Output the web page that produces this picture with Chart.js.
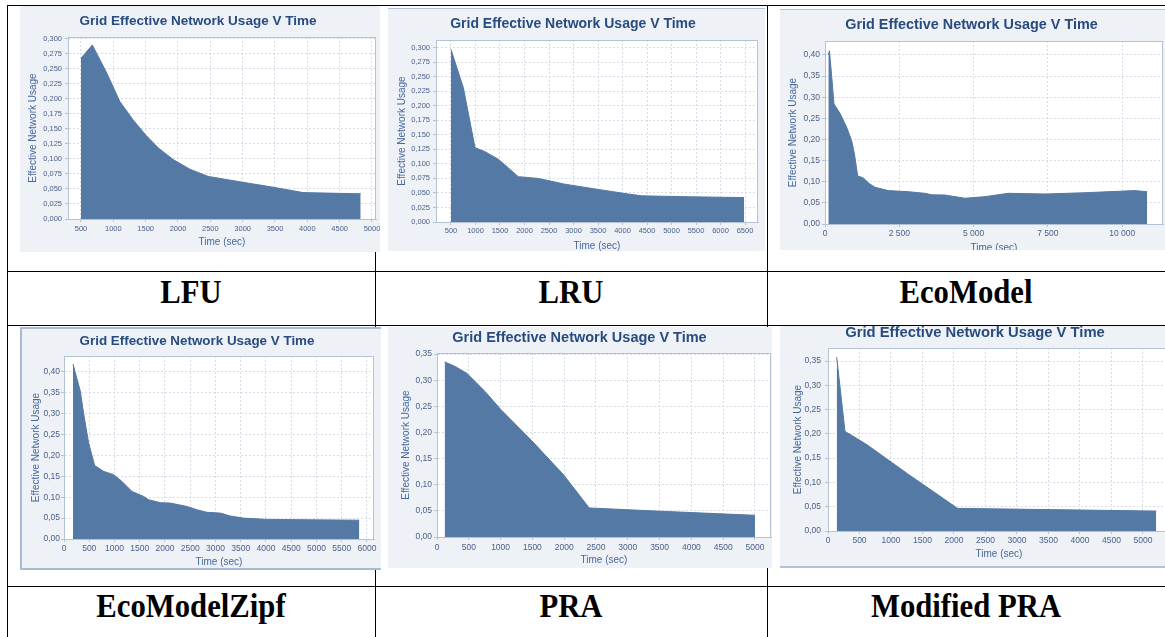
<!DOCTYPE html>
<html>
<head>
<meta charset="utf-8">
<script src="https://cdn.jsdelivr.net/npm/chart.js@4.4.0/dist/chart.umd.min.js"></script>
<style>
  html, body { margin: 0; padding: 0; background: #fff; }
  body { position: relative; width: 1165px; height: 637px; overflow: hidden; }
  .hl { position: absolute; height: 1px; background: #000; }
  .vl { position: absolute; width: 1px; background: #000; }
  .panel { position: absolute; background: #eef2f7; overflow: hidden; }
  .panel canvas { position: absolute; left: 0; top: 0; }
  .lbl { position: absolute; text-align: center; font: bold 33px "Liberation Serif", "Times New Roman", serif; line-height: 36px; color: #000; transform: scaleX(0.93); }
</style>
</head>
<body>
<!-- table rules -->
<div class="hl" style="left:7px;top:5px;width:1158px"></div>
<div class="hl" style="left:7px;top:271px;width:1158px"></div>
<div class="hl" style="left:7px;top:325px;width:1158px"></div>
<div class="hl" style="left:7px;top:586px;width:1158px"></div>
<div class="vl" style="left:7px;top:5px;height:632px"></div>
<div class="vl" style="left:375px;top:5px;height:632px"></div>
<div class="vl" style="left:767px;top:5px;height:632px"></div>

<div class="panel" style="left:20px;top:6px;width:360px;height:246px"><canvas id="lfu" width="360" height="246"></canvas></div>
<div class="panel" style="left:388px;top:8px;width:377px;height:242px;border-top:1px solid #b3c2d6"><canvas id="lru" width="377" height="242"></canvas></div>
<div class="panel" style="left:780px;top:9px;width:392px;height:240px;border-top:1px solid #b3c2d6"><canvas id="eco" width="392" height="240"></canvas></div>
<div class="panel" style="left:20px;top:327px;width:359px;height:239px;border:2px solid #a9bbd3;border-right:none"><canvas id="zipf" width="361" height="241" style="left:-2px;top:-2px"></canvas></div>
<div class="panel" style="left:388px;top:327px;width:384px;height:241px"><canvas id="pra" width="384" height="241"></canvas></div>
<div class="panel" style="left:780px;top:326px;width:392px;height:240px;border-bottom:2px solid #b3c2d6"><canvas id="mpra" width="392" height="242"></canvas></div>

<div class="lbl" style="left:7px;top:274px;width:368px">LFU</div>
<div class="lbl" style="left:375px;top:274px;width:392px">LRU</div>
<div class="lbl" style="left:767px;top:274px;width:398px">EcoModel</div>
<div class="lbl" style="left:7px;top:588px;width:368px">EcoModelZipf</div>
<div class="lbl" style="left:375px;top:588px;width:392px">PRA</div>
<div class="lbl" style="left:767px;top:588px;width:398px">Modified PRA</div>

<script>
// LFU
const lfuTime  = [500, 675, 900, 1100, 1300, 1500, 1700, 1926, 2184, 2467, 2956, 3471, 3934, 4825];
const lfuUsage = [0.268, 0.290, 0.243, 0.196, 0.166, 0.140, 0.118, 0.099, 0.083, 0.071, 0.062, 0.053, 0.044, 0.042];
// LRU
const lruTime  = [500, 752, 990, 1194, 1466, 1874, 2282, 2827, 3507, 4051, 4391, 5276, 6480];
const lruUsage = [0.297, 0.231, 0.128, 0.121, 0.108, 0.078, 0.075, 0.065, 0.056, 0.049, 0.045, 0.0436, 0.042];
// EcoModel
const ecoTime  = [112, 150, 224, 303, 504, 729, 897, 990, 1099, 1289, 1500, 1682, 2130, 2803, 3363, 3600, 4036, 4708, 5381, 6166, 7399, 8744, 10425, 10840];
const ecoUsage = [0.40, 0.41, 0.35, 0.284, 0.262, 0.229, 0.197, 0.166, 0.114, 0.109, 0.095, 0.087, 0.079, 0.0765, 0.0726, 0.069, 0.0686, 0.061, 0.0647, 0.0726, 0.071, 0.074, 0.079, 0.0765];
// EcoModelZipf
const zipfTime  = [178, 323, 389, 488, 607, 785, 983, 1148, 1346, 1577, 1676, 1907, 2105, 2435, 2633, 2831, 3095, 3293, 3557, 4019, 4877, 5848];
const zipfUsage = [0.419, 0.354, 0.300, 0.230, 0.176, 0.162, 0.154, 0.138, 0.114, 0.102, 0.094, 0.087, 0.086, 0.078, 0.070, 0.064, 0.062, 0.055, 0.050, 0.047, 0.046, 0.045];
// PRA
const praTime  = [120, 288, 471, 759, 995, 1492, 1990, 2393, 3377, 5000];
const praUsage = [0.335, 0.326, 0.313, 0.278, 0.245, 0.184, 0.119, 0.0556, 0.050, 0.0415];
// Modified PRA
const mpraTime  = [138, 270, 414, 626, 1262, 2057, 5212];
const mpraUsage = [0.358, 0.205, 0.194, 0.177, 0.118, 0.0466, 0.041];

// tick values
const lfuXTicks  = [500, 1000, 1500, 2000, 2500, 3000, 3500, 4000, 4500, 5000];
const lruXTicks  = [500, 1000, 1500, 2000, 2500, 3000, 3500, 4000, 4500, 5000, 5500, 6000, 6500];
const ecoXTicks  = [0, 2500, 5000, 7500, 10000];
const zipfXTicks = [0, 500, 1000, 1500, 2000, 2500, 3000, 3500, 4000, 4500, 5000, 5500, 6000];
const praXTicks  = [0, 500, 1000, 1500, 2000, 2500, 3000, 3500, 4000, 4500, 5000];
const y300Ticks  = [0, 0.025, 0.05, 0.075, 0.1, 0.125, 0.15, 0.175, 0.2, 0.225, 0.25, 0.275, 0.3];
const y40Ticks   = [0, 0.05, 0.1, 0.15, 0.2, 0.25, 0.3, 0.35, 0.4];
const y35Ticks   = [0, 0.05, 0.1, 0.15, 0.2, 0.25, 0.3, 0.35];

const chartTitle = 'Grid Effective Network Usage V Time';
const xTitle = 'Time (sec)';
const yTitle = 'Effective Network Usage';

const fillColor = '#5479a5';
const gridColor = '#d6dde8';
const edgeColor = '#b4c2d6';
const tickColor = '#4a5f88';
const axisTitleColor = '#46679b';
const titleColor = '#284b80';
const family = '"Liberation Sans", Arial, sans-serif';

const dec = n => v => v.toFixed(n).replace('.', ',');
const plain = v => String(v);
const spaced = v => String(v).replace(/\B(?=(\d{3})+(?!\d))/g, ' ');

const plotFrame = {
    id: 'plotFrame',
    beforeDraw(chart) {
        const a = chart.chartArea, ctx = chart.ctx;
        ctx.save();
        ctx.fillStyle = '#fff';
        ctx.fillRect(a.left, a.top, a.right - a.left, a.bottom - a.top);
        ctx.restore();
    },
    afterDatasetsDraw(chart) {
        const a = chart.chartArea, ctx = chart.ctx;
        ctx.save();
        ctx.strokeStyle = edgeColor;
        ctx.lineWidth = 1;
        ctx.strokeRect(Math.round(a.left) + 0.5, Math.round(a.top) + 0.5,
            Math.round(a.right - a.left) - 1, Math.round(a.bottom - a.top));
        ctx.restore();
    }
};

function drawPanel(id, time, usage, xTicks, yTicks, xFmt, yFmt, b) {
    const titleTop = Math.max(b.titleY - b.titleSize / 2, 0);
    new Chart(document.getElementById(id), {
        type: 'line',
        data: {
            datasets: [{
                data: time.map((t, i) => ({ x: t, y: usage[i] })),
                fill: 'origin',
                backgroundColor: fillColor,
                borderColor: fillColor,
                borderWidth: 1,
                pointRadius: 0,
                tension: 0,
            }],
        },
        options: {
            responsive: false,
            animation: false,
            devicePixelRatio: 1,
            layout: { padding: { left: 0, top: 0, bottom: 0, right: b.w - b.right } },
            plugins: {
                legend: { display: false },
                tooltip: { enabled: false },
                title: {
                    display: true,
                    text: chartTitle,
                    color: titleColor,
                    font: { family, size: b.titleSize, weight: 'bold', lineHeight: 1 },
                    padding: { top: titleTop, bottom: b.top - titleTop - b.titleSize },
                },
            },
            scales: {
                x: {
                    type: 'linear',
                    min: b.xMin,
                    max: b.xMax,
                    afterBuildTicks: (s) => { s.ticks = xTicks.map((v) => ({ value: v })); },
                    afterFit: (s) => { s.height = b.h - b.bottom; s.paddingLeft = 0; s.paddingRight = 0; },
                    ticks: {
                        callback: xFmt,
                        color: tickColor,
                        autoSkip: false,
                        maxRotation: 0,
                        font: { family, size: b.tickSize, lineHeight: 1 },
                        padding: b.xTickY - b.bottom - 3 - b.tickSize / 2,
                    },
                    grid: { color: gridColor, tickLength: 3, tickColor: edgeColor },
                    border: { color: edgeColor, dash: [2, 2] },
                    title: {
                        display: true,
                        text: xTitle,
                        color: axisTitleColor,
                        font: { family, size: 10, lineHeight: 1 },
                        padding: { top: 0, bottom: b.h - b.xTitleY - 5 },
                    },
                },
                y: {
                    type: 'linear',
                    min: 0,
                    max: b.yMax,
                    afterBuildTicks: (s) => { s.ticks = yTicks.map((v) => ({ value: v })); },
                    afterFit: (s) => { s.width = b.left; s.paddingTop = 0; s.paddingBottom = 0; },
                    ticks: {
                        callback: yFmt,
                        color: tickColor,
                        autoSkip: false,
                        font: { family, size: b.tickSize, lineHeight: 1 },
                        padding: b.left - b.yTickRight - 3,
                    },
                    grid: { color: gridColor, tickLength: 3, tickColor: edgeColor },
                    border: { color: edgeColor, dash: [2, 2] },
                    title: {
                        display: true,
                        text: yTitle,
                        color: axisTitleColor,
                        font: { family, size: 10, lineHeight: 1 },
                        padding: { top: b.yTitleX - 5, bottom: 0 },
                    },
                },
            },
        },
        plugins: [plotFrame],
    });
}

drawPanel('lfu', lfuTime, lfuUsage, lfuXTicks, y300Ticks, plain, dec(3),
    { w: 360, h: 246, left: 48, right: 356, top: 31, bottom: 213, titleSize: 13.5, titleY: 15,
      xMin: 299, xMax: 5062, yMax: 0.3033, xTickY: 223, xTitleY: 236, yTitleX: 13, yTickRight: 42, tickSize: 7.5 });
drawPanel('lru', lruTime, lruUsage, lruXTicks, y300Ticks, plain, dec(3),
    { w: 377, h: 242, left: 48, right: 370, top: 31, bottom: 213, titleSize: 14, titleY: 15,
      xMin: 194, xMax: 6765, yMax: 0.3132, xTickY: 222, xTitleY: 237, yTitleX: 14, yTickRight: 42, tickSize: 7.5 });
drawPanel('eco', ecoTime, ecoUsage, ecoXTicks, y40Ticks, spaced, dec(2),
    { w: 392, h: 240, left: 45, right: 383, top: 31, bottom: 214, titleSize: 14.4, titleY: 15,
      xMin: 0, xMax: 11373, yMax: 0.4331, xTickY: 224, xTitleY: 238, yTitleX: 13, yTickRight: 40, tickSize: 8.5 });
drawPanel('zipf', zipfTime, zipfUsage, zipfXTicks, y40Ticks, plain, dec(2),
    { w: 361, h: 241, left: 44, right: 354, top: 29, bottom: 212, titleSize: 13.4, titleY: 14,
      xMin: 0, xMax: 6139, yMax: 0.4383, xTickY: 222, xTitleY: 235, yTitleX: 16, yTickRight: 40, tickSize: 8.5 });
drawPanel('pra', praTime, praUsage, praXTicks, y35Ticks, plain, dec(2),
    { w: 384, h: 241, left: 49, right: 383, top: 26, bottom: 210, titleSize: 14.5, titleY: 11,
      xMin: 0, xMax: 5252, yMax: 0.352, xTickY: 221, xTitleY: 233, yTitleX: 18, yTickRight: 44, tickSize: 8.5 });
drawPanel('mpra', mpraTime, mpraUsage, praXTicks, y35Ticks, plain, dec(2),
    { w: 392, h: 242, left: 48, right: 390, top: 22, bottom: 205, titleSize: 14.8, titleY: 7,
      xMin: 0, xMax: 5430, yMax: 0.3768, xTickY: 215, xTitleY: 228, yTitleX: 18, yTickRight: 41, tickSize: 8.5 });
</script>
</body>
</html>
